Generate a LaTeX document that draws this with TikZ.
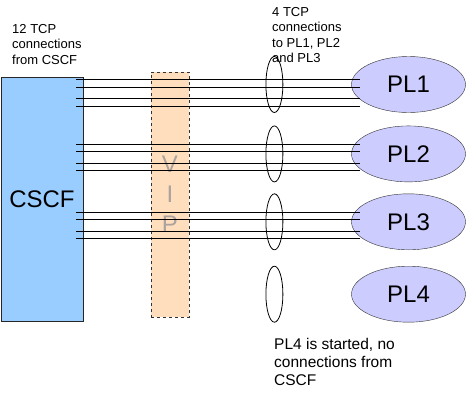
\documentclass[tikz,border=0pt]{standalone}
\usepackage{fontspec}
\setmainfont{Liberation Sans}
\usetikzlibrary{positioning,shapes.geometric}
\definecolor{cscfblue}{RGB}{153,204,255}
\definecolor{vippeach}{RGB}{255,222,190}
\definecolor{plviolet}{RGB}{204,204,255}
\definecolor{vipgrey}{RGB}{172,163,158}

\begin{document}
\begin{tikzpicture}[
    x=1pt,y=-1pt,
    node distance=12pt
]

\tikzset{
    box/.style={
        draw=black!85,
        fill=cscfblue,
        minimum width=82pt,
        minimum height=244pt,
        inner sep=0pt,
        font=\fontsize{24}{28}\selectfont
    },
    vip/.style={
        draw=black!80,
        dashed,
        fill=vippeach,
        minimum width=38pt,
        minimum height=245pt,
        inner sep=0pt,
        align=center,
        text=vipgrey,
        font=\fontsize{24}{30}\selectfont
    },
    pl/.style={
        ellipse,
        draw=black!80,
        fill=plviolet,
        minimum width=114pt,
        minimum height=56pt,
        inner sep=0pt,
        font=\fontsize{24}{28}\selectfont
    },
    ring/.style={
        ellipse,
        draw,
        line width=0.8pt,
        minimum width=17pt,
        minimum height=56pt,
        inner sep=0pt
    },
    note/.style={
        align=left,
        inner sep=0pt,
        anchor=north west,
        font=\fontsize{13}{15.5}\selectfont
    },
    tcp/.style={line width=1pt}
}

\useasboundingbox (0,0) rectangle (467,400);

\node[box] (cscf) at (42,199) {CSCF};

\node[vip] (vip) at (170,194.5) {V\\I\\P};

\node[pl] (pl1) at (408.5,84.5) {PL1};
\node[pl, below=13pt of pl1] (pl2) {PL2};
\node[pl, below=11.5pt of pl2] (pl3) {PL3};
\node[pl, below=16pt of pl3] (pl4) {PL4};

% four TCP connections per PL
\foreach \y in {79,87,98.5,106,144.5,151.5,163.5,170,212.5,219.5,231,238.5}
    \draw[tcp] ([xshift=-7pt]cscf.east |- 0,\y) -- ([xshift=9pt]pl1.west |- 0,\y);

\node[ring, left=68pt of pl1] (r1) {};
\node[ring, left=68pt of pl2] (r2) {};
\node[ring, left=68pt of pl3] (r3) {};
\node[ring, left=68pt of pl4] (r4) {};

\node[note] (ltext) at (12,24)
{12 TCP\\connections\\from CSCF};

\node[note] (rtext) at (272,7)
{4 TCP\\connections\\to PL1, PL2\\and PL3};

\node[
    note,
    font=\fontsize{15.5}{18}\selectfont
] (btext) at (274,338)
{PL4 is started, no\\connections from\\CSCF};

\end{tikzpicture}
\end{document}
